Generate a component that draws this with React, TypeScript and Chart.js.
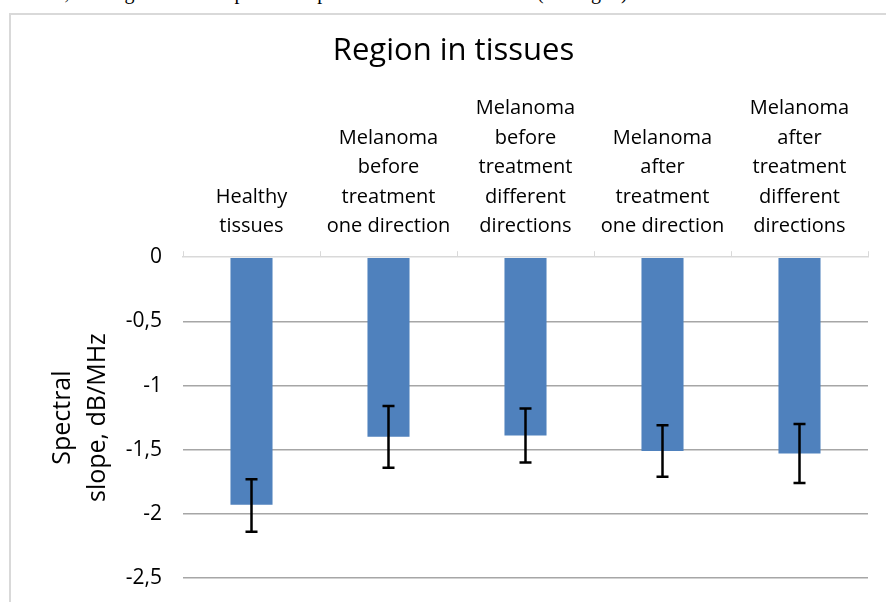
import React, { useEffect, useRef } from "react";
import { Chart, registerables } from "chart.js";

Chart.register(...registerables);

const categories: string[][] = [
  ["Healthy", "tissues"],
  ["Melanoma", "before", "treatment", "one direction"],
  ["Melanoma", "before", "treatment", "different", "directions"],
  ["Melanoma", "after", "treatment", "one direction"],
  ["Melanoma", "after", "treatment", "different", "directions"],
];
const slopeMeans = [-1.93, -1.4, -1.39, -1.51, -1.53];
const errorUpperEnds = [-1.73, -1.16, -1.18, -1.31, -1.3];
const errorLowerEnds = [-2.14, -1.64, -1.6, -1.71, -1.76];
const yTicks = [0, -0.5, -1, -1.5, -2, -2.5];
const chartTitle = "Region in tissues";
const yAxisTitle = ["Spectral", "slope, dB/MHz"];

const FONT = "'Open Sans', sans-serif";

const errorBarPlugin = {
  id: "errorBars",
  afterDatasetsDraw(chart: any) {
    const ctx = chart.ctx;
    const meta = chart.getDatasetMeta(0);
    const y = chart.scales.y;
    ctx.save();
    ctx.strokeStyle = "#000";
    ctx.lineWidth = 2.5;
    meta.data.forEach((bar: any, i: number) => {
      const x = bar.x;
      const yTop = y.getPixelForValue(errorUpperEnds[i]);
      const yBot = y.getPixelForValue(errorLowerEnds[i]);
      const cap = 6;
      ctx.beginPath();
      ctx.moveTo(x, yTop);
      ctx.lineTo(x, yBot);
      ctx.moveTo(x - cap, yTop);
      ctx.lineTo(x + cap, yTop);
      ctx.moveTo(x - cap, yBot);
      ctx.lineTo(x + cap, yBot);
      ctx.stroke();
    });
    ctx.restore();
  },
};

export default function App() {
  const ref = useRef<HTMLCanvasElement>(null);
  useEffect(() => {
    if (!ref.current) return;
    const chart = new Chart(ref.current, {
      type: "bar",
      data: {
        labels: categories as any,
        datasets: [
          {
            data: slopeMeans,
            backgroundColor: "#4f81bd",
            borderWidth: 0,
            barPercentage: 0.307,
            categoryPercentage: 1,
          },
        ],
      },
      options: {
        animation: false,
        responsive: false,
        devicePixelRatio: 1,
        layout: { padding: { left: 39, right: 18, top: 14, bottom: 24 } },
        plugins: {
          legend: { display: false },
          tooltip: { enabled: false },
          title: {
            display: true,
            text: chartTitle,
            color: "#000",
            font: { family: FONT, size: 31, weight: "normal" },
            padding: { top: 19, bottom: 7 },
          },
        },
        scales: {
          x: {
            position: "top",
            offset: true,
            afterFit: (s: any) => {
              s.height = 180;
            },
            grid: {
              drawOnChartArea: false,
              drawTicks: true,
              tickLength: 6,
              color: "#d9d9d9",
              offset: true,
            },
            border: { display: true, color: "#d9d9d9", width: 1.5 },
            ticks: {
              color: "#000",
              font: { family: FONT, size: 20, lineHeight: 1.475 },
              padding: 10,
              maxRotation: 0,
              autoSkip: false,
            },
          },
          y: {
            min: -2.5,
            max: 0,
            afterFit: (s: any) => {
              s.width = 144;
              s.paddingTop = 0;
              s.paddingBottom = 0;
            },
            afterBuildTicks: (s: any) => {
              s.ticks = yTicks.map((v) => ({ value: v }));
            },
            grid: {
              color: (c: any) => (c.tick && c.tick.value === 0 ? "rgba(0,0,0,0)" : "#a6a6a6"),
              lineWidth: 1.5,
              drawTicks: false,
            },
            border: { display: false },
            ticks: {
              color: "#000",
              font: { family: FONT, size: 21 },
              padding: 21,
              callback: (v: any) => String(v).replace(".", ","),
            },
            title: {
              display: true,
              text: yAxisTitle,
              color: "#000",
              font: { family: FONT, size: 25, lineHeight: 1.4 },
              padding: { top: 6, bottom: 0 },
            },
          },
        },
      },
      plugins: [errorBarPlugin],
    });
    return () => chart.destroy();
  }, []);

  return (
    <div style={{ position: "fixed", left: 0, top: 0, width: 886, height: 602, background: "#fff", overflow: "hidden" }}>
      <div
        style={{
          position: "absolute",
          left: 0,
          top: -19,
          width: 886,
          whiteSpace: "nowrap",
          fontFamily: "'Liberation Serif', serif",
          fontSize: 20,
          color: "#000",
        }}
      >
        sections, although observed spectral slope decrease after treatment (see Fig. 3).
      </div>
      <div
        style={{
          position: "absolute",
          left: 9,
          top: 13,
          width: 900,
          height: 600,
          borderLeft: "2px solid #d9d9d9",
          borderTop: "2px solid #d9d9d9",
        }}
      />
      <canvas ref={ref} width={886} height={602} style={{ position: "absolute", left: 0, top: 0 }} />
    </div>
  );
}
